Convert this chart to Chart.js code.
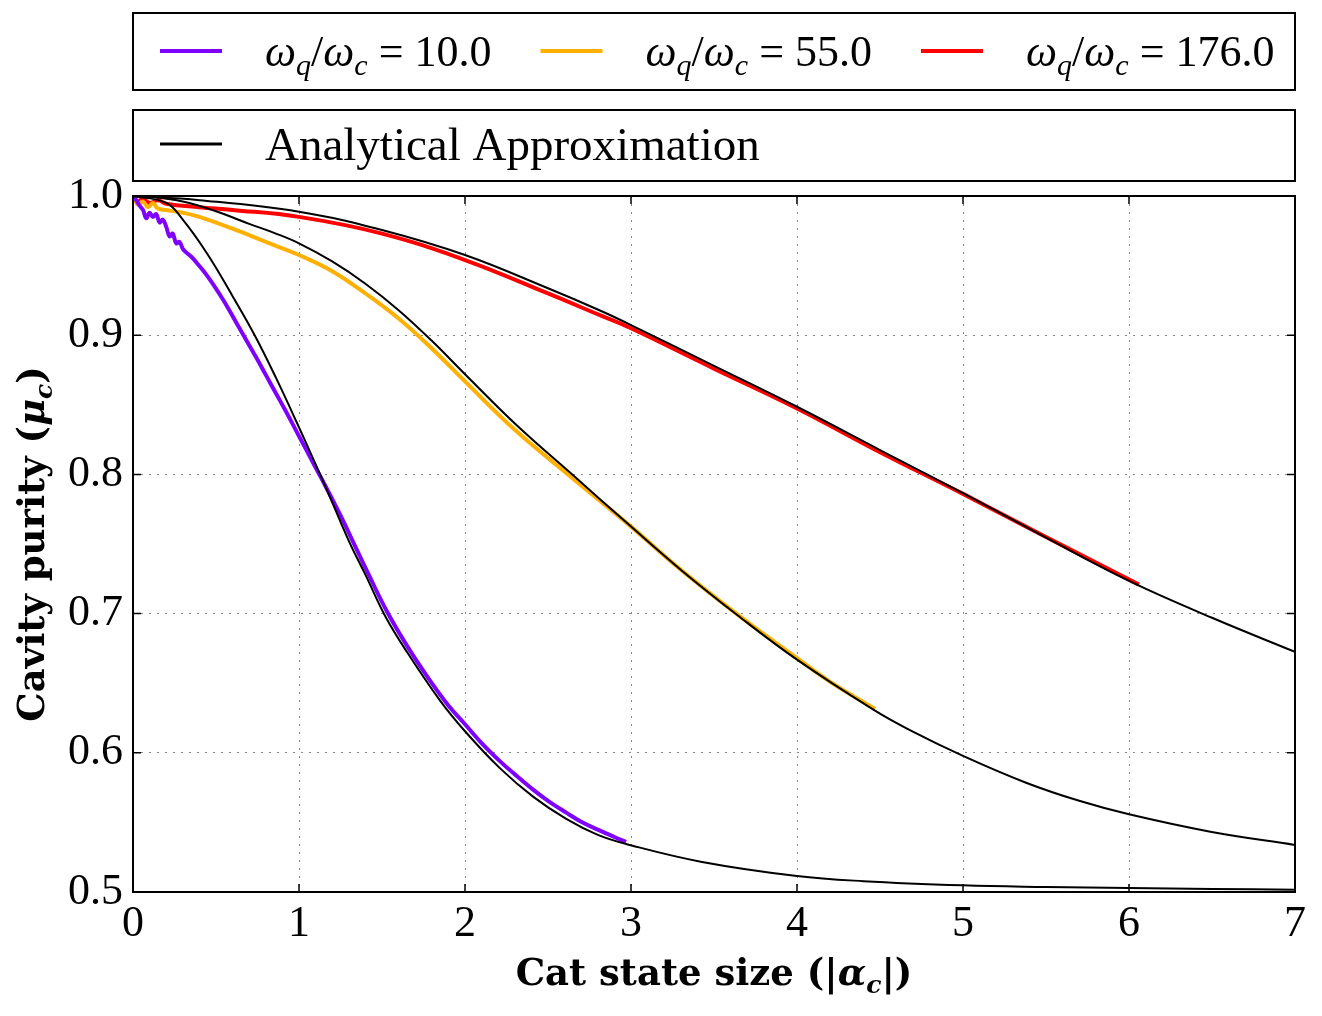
<!DOCTYPE html>
<html>
<head>
<meta charset="utf-8">
<script src="https://cdn.jsdelivr.net/npm/chart.js@4.4.0/dist/chart.umd.min.js"></script>
<style>
  html, body { margin: 0; padding: 0; background: #fff; }
</style>
</head>
<body>
<canvas id="purityChart" width="1322" height="1016"></canvas>
<script>
// axis ticks
const xTickVals = [0, 1, 2, 3, 4, 5, 6, 7];
const yTickVals = [0.5, 0.6, 0.7, 0.8, 0.9, 1.0];

// legend values (omega_q / omega_c)
const ratios = [10.0, 55.0, 176.0];

// simulated purity, omega_q/omega_c = 10
const sim10X = [0, 0.02, 0.04, 0.06, 0.08, 0.10, 0.12, 0.14, 0.16, 0.18, 0.20, 0.22, 0.24, 0.26, 0.28, 0.30, 0.32, 0.35, 0.38, 0.42, 0.46, 0.50, 0.54, 0.58, 0.62, 0.663, 0.74, 0.80, 0.86, 0.92, 0.98, 1.04, 1.10, 1.16, 1.25, 1.33, 1.42, 1.53, 1.65, 1.78, 1.90, 2.00, 2.10, 2.21, 2.30, 2.41, 2.50, 2.61, 2.70, 2.80, 2.90, 2.97];
const sim10Y = [1.000, 0.997, 0.993, 0.990, 0.984, 0.988, 0.985, 0.987, 0.981, 0.983, 0.978, 0.971, 0.973, 0.966, 0.967, 0.962, 0.9595, 0.9565, 0.9525, 0.9468, 0.9405, 0.9335, 0.926, 0.918, 0.9095, 0.9005, 0.8845, 0.8715, 0.8585, 0.8455, 0.832, 0.8185, 0.805, 0.7915, 0.7705, 0.7505, 0.728, 0.7015, 0.677, 0.6535, 0.634, 0.6205, 0.607, 0.594, 0.5845, 0.5735, 0.5655, 0.557, 0.5505, 0.5448, 0.5395, 0.536];

// simulated purity, omega_q/omega_c = 55
const sim55X = [0, 0.03, 0.06, 0.09, 0.12, 0.15, 0.20, 0.30, 0.40, 0.60, 0.80, 1.00, 1.20, 1.40, 1.60, 1.80, 2.00, 2.30, 2.62, 3.00, 3.30, 3.64, 4.00, 4.20, 4.47];
const sim55Y = [0.999, 0.994, 0.996, 0.992, 0.995, 0.991, 0.990, 0.988, 0.985, 0.9765, 0.967, 0.9576, 0.946, 0.930, 0.912, 0.8905, 0.8668, 0.832, 0.800, 0.7625, 0.7315, 0.6995, 0.668, 0.651, 0.6315];

// simulated purity, omega_q/omega_c = 176
const sim176X = [0, 0.03, 0.06, 0.10, 0.15, 0.20, 0.40, 0.60, 1.00, 1.50, 2.00, 2.50, 2.82, 3.00, 3.50, 4.00, 4.50, 5.00, 5.50, 6.06];
const sim176Y = [0.999, 0.996, 0.998, 0.995, 0.997, 0.9945, 0.992, 0.990, 0.985, 0.973, 0.954, 0.930, 0.914, 0.905, 0.876, 0.8474, 0.816, 0.786, 0.755, 0.7208];

// analytical approximation curves
const ana10X = [0, 0.20, 0.30, 0.45, 0.60, 0.733, 0.863, 0.984, 1.127, 1.20, 1.307, 1.40, 1.518, 1.65, 1.85, 2.00, 2.21, 2.41, 2.61, 2.80, 2.97, 3.42, 4.00, 4.40, 5.00, 5.50, 6.00, 6.50, 7.00];
const ana10Y = [1.000, 0.995, 0.983, 0.958, 0.928, 0.900, 0.869, 0.838, 0.800, 0.780, 0.7505, 0.728, 0.6985, 0.6725, 0.6375, 0.6155, 0.589, 0.5685, 0.5525, 0.541, 0.5345, 0.5218, 0.5115, 0.5078, 0.5048, 0.5036, 0.5028, 0.5022, 0.5017];

const ana55X = [0, 0.10, 0.30, 0.50, 0.70, 0.85, 1.00, 1.20, 1.40, 1.60, 1.80, 2.00, 2.31, 2.65, 3.00, 3.31, 3.64, 4.00, 4.46, 4.68, 5.00, 5.38, 5.70, 6.00, 6.49, 7.00];
const ana55Y = [1.000, 0.9995, 0.996, 0.989, 0.980, 0.9735, 0.966, 0.953, 0.937, 0.918, 0.896, 0.872, 0.8355, 0.7995, 0.7625, 0.7305, 0.699, 0.6669, 0.631, 0.6163, 0.5978, 0.5785, 0.5655, 0.5558, 0.5433, 0.5338];

const ana176X = [0, 0.40, 1.00, 1.50, 2.00, 2.50, 2.82, 3.00, 3.50, 4.00, 4.50, 5.00, 5.50, 6.00, 6.50, 7.00];
const ana176Y = [1.000, 0.997, 0.9887, 0.9756, 0.9576, 0.9337, 0.9174, 0.9073, 0.878, 0.8486, 0.8175, 0.7865, 0.7545, 0.7235, 0.697, 0.6725];

const serif = '"Liberation Serif", "Times New Roman", serif';
const titleSerif = '"DejaVu Serif", serif';
const simColors = ['#7f00ff', '#ffb000', '#ff0000'];

const pts = (xs, ys) => xs.map((x, i) => ({ x: x, y: ys[i] }));

function blackCurve(xs, ys) {
    return { label: 'Analytical Approximation', data: pts(xs, ys), borderColor: '#000000', borderWidth: 2, order: 0 };
}
function simCurve(xs, ys, i) {
    return { label: 'ratio ' + ratios[i], data: pts(xs, ys), borderColor: simColors[i], borderWidth: 4, order: 1 };
}

// draw text made of pieces (font switches, subscripts), returns end x
function drawPieces(ctx, pieces, x, y, measureOnly) {
    pieces.forEach(p => {
        ctx.font = p[1];
        if (!measureOnly) ctx.fillText(p[0], x, y + (p[2] || 0));
        x += ctx.measureText(p[0]).width;
    });
    return x;
}

function ratioPieces(v) {
    return [
        ['ω', 'italic 44px ' + serif],
        ['q', 'italic 30px ' + serif, 9],
        ['/', '44px ' + serif],
        ['ω', 'italic 44px ' + serif],
        ['c', 'italic 30px ' + serif, 9],
        [' = ' + v.toFixed(1), '44px ' + serif]
    ];
}

const decor = {
    id: 'decor',
    afterDatasetsDraw(chart) {
        const { ctx, chartArea: a, scales: { x, y } } = chart;
        ctx.save();
        ctx.strokeStyle = '#000';
        ctx.lineWidth = 1.5;
        ctx.beginPath();
        xTickVals.forEach(v => {
            const px = x.getPixelForValue(v);
            ctx.moveTo(px, a.bottom); ctx.lineTo(px, a.bottom - 8);
            ctx.moveTo(px, a.top); ctx.lineTo(px, a.top + 8);
        });
        yTickVals.forEach(v => {
            const py = y.getPixelForValue(v);
            ctx.moveTo(a.left, py); ctx.lineTo(a.left + 8, py);
            ctx.moveTo(a.right, py); ctx.lineTo(a.right - 8, py);
        });
        ctx.stroke();
        ctx.lineWidth = 2;
        ctx.strokeRect(a.left, a.top, a.right - a.left, a.bottom - a.top);
        ctx.restore();
    },
    afterDraw(chart) {
        const { ctx, chartArea: a } = chart;
        ctx.save();
        ctx.fillStyle = '#000';
        ctx.textBaseline = 'alphabetic';
        ctx.textAlign = 'left';

        // legend box 1: simulations
        ctx.strokeStyle = '#000';
        ctx.lineWidth = 2;
        ctx.strokeRect(a.left, 13, a.right - a.left, 77);
        let lx = 160;
        ratios.forEach((r, i) => {
            ctx.strokeStyle = simColors[i];
            ctx.lineWidth = 4;
            ctx.beginPath(); ctx.moveTo(lx, 51); ctx.lineTo(lx + 62, 51); ctx.stroke();
            const end = drawPieces(ctx, ratioPieces(r), lx + 105, 66);
            lx = end + 49;
        });

        // legend box 2: analytical
        ctx.strokeStyle = '#000';
        ctx.lineWidth = 2;
        ctx.strokeRect(a.left, 110, a.right - a.left, 71);
        ctx.lineWidth = 3;
        ctx.beginPath(); ctx.moveTo(160, 144); ctx.lineTo(222, 144); ctx.stroke();
        ctx.font = '47px ' + serif;
        ctx.fillText('Analytical Approximation', 265, 160);

        // x axis title
        const xt = [
            ['Cat state size (|', 'bold 37px ' + titleSerif],
            ['α', 'bold italic 37px ' + titleSerif],
            ['c', 'bold italic 25px ' + titleSerif, 8],
            ['|)', 'bold 37px ' + titleSerif]
        ];
        const xw = drawPieces(ctx, xt, 0, 0, true);
        drawPieces(ctx, xt, (a.left + a.right) / 2 - xw / 2, 985);

        // y axis title
        const yt = [
            ['Cavity purity (', 'bold 37px ' + titleSerif],
            ['μ', 'bold italic 37px ' + titleSerif],
            ['c', 'bold italic 25px ' + titleSerif, 8],
            [')', 'bold 37px ' + titleSerif]
        ];
        const yw = drawPieces(ctx, yt, 0, 0, true);
        ctx.translate(44, (a.top + a.bottom) / 2);
        ctx.rotate(-Math.PI / 2);
        drawPieces(ctx, yt, -yw / 2, 0);
        ctx.restore();
    }
};

const ctx = document.getElementById('purityChart');
new Chart(ctx, {
    type: 'line',
    data: {
        datasets: [
            blackCurve(ana10X, ana10Y),
            blackCurve(ana55X, ana55Y),
            blackCurve(ana176X, ana176Y),
            simCurve(sim10X, sim10Y, 0),
            simCurve(sim55X, sim55Y, 1),
            simCurve(sim176X, sim176Y, 2)
        ]
    },
    options: {
        responsive: false,
        animation: false,
        devicePixelRatio: 1,
        layout: { padding: { top: 196, right: 27, left: 0, bottom: 0 } },
        elements: {
            point: { radius: 0 },
            line: { tension: 0.4, fill: false }
        },
        scales: {
            x: {
                type: 'linear',
                min: 0,
                max: 7,
                afterBuildTicks: s => { s.ticks = xTickVals.map(v => ({ value: v })); },
                afterFit: s => { s.height = 124; },
                ticks: {
                    color: '#000',
                    padding: 6,
                    font: { family: serif, size: 44 },
                    callback: v => String(v)
                },
                grid: { color: '#888888', lineWidth: 1, drawTicks: false },
                border: { display: false, dash: [2, 6] }
            },
            y: {
                min: 0.5,
                max: 1.0,
                afterBuildTicks: s => { s.ticks = yTickVals.map(v => ({ value: v })); },
                afterFit: s => { s.width = 133; },
                ticks: {
                    color: '#000',
                    padding: 10,
                    font: { family: serif, size: 44 },
                    callback: v => v.toFixed(1)
                },
                grid: { color: '#888888', lineWidth: 1, drawTicks: false },
                border: { display: false, dash: [2, 6] }
            }
        },
        plugins: {
            legend: { display: false },
            tooltip: { enabled: false }
        }
    },
    plugins: [decor]
});
</script>
</body>
</html>
